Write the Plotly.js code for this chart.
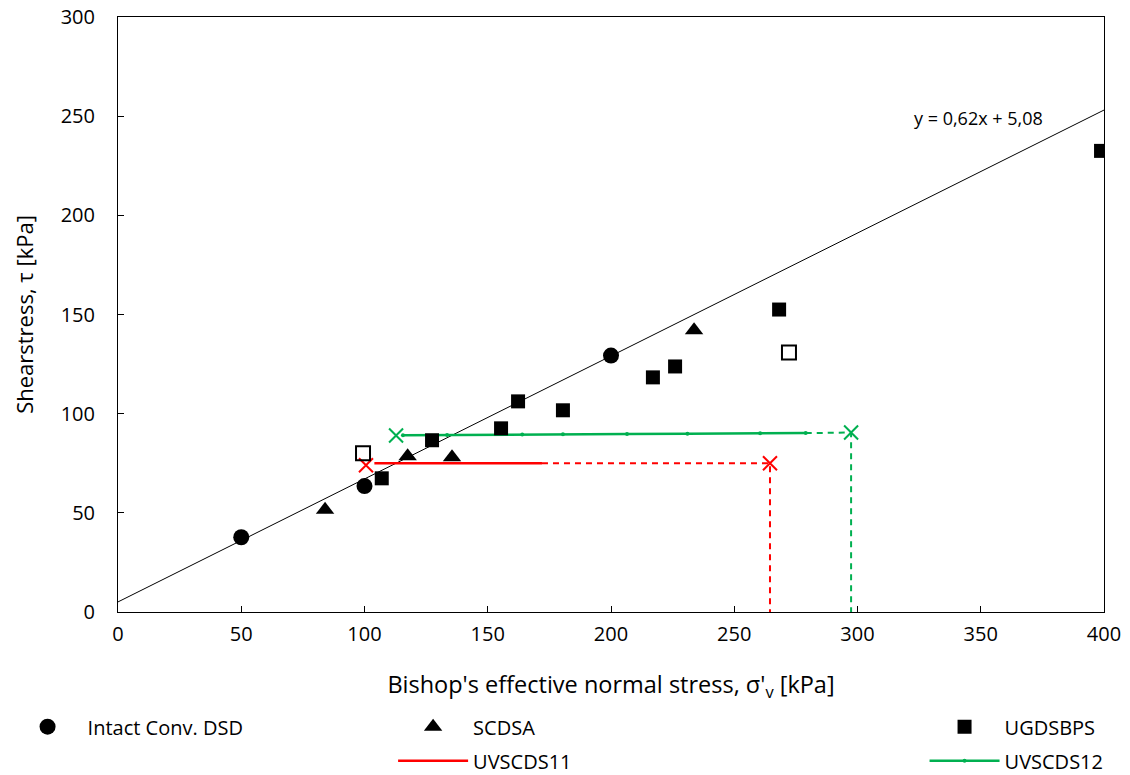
<!DOCTYPE html>
<html>
<head>
<meta charset="utf-8">
<script src="https://cdn.plot.ly/plotly-3.0.1.min.js"></script>
<style>html,body{margin:0;padding:0;background:#fff}#chart{width:1130px;height:775px}</style>
</head>
<body>
<div id="chart"></div>
<script>
// Intact Conv. DSD
const intactX = [50, 100, 200];
const intactY = [37.7, 63.5, 129.3];
// SCDSA
const scdsaX = [84, 117.5, 135.5, 233.7];
const scdsaY = [51.5, 78.5, 78, 142];
// UGDSBPS (filled)
const ugdsX = [107, 127.4, 155.4, 162.3, 180.5, 217, 226, 268.2, 398.8];
const ugdsY = [67.4, 86.6, 92.6, 106.2, 101.7, 118.3, 123.8, 152.5, 232.5];
// UGDSBPS (open squares)
const ugdsOpenX = [99.4, 272.2];
const ugdsOpenY = [80, 130.9];
// UVSCDS11 (red)
const uv11X = [104, 120, 140, 160, 172];
const uv11Y = [75, 75, 75, 75, 75];
const uv11DashX = [172, 264.5, 264.5];
const uv11DashY = [75, 75, 0];
const uv11CrossX = [100.6, 264.5];
const uv11CrossY = [74, 75];
// UVSCDS12 (green)
const uv12X = [115.6, 133.5, 164, 180.5, 206.5, 231, 260.5, 279];
const uv12Y = [89.1, 89.3, 89.5, 89.6, 89.8, 89.9, 90.1, 90.2];
const uv12DashX = [279, 297.4, 297.4];
const uv12DashY = [90.2, 90.5, 0];
const uv12CrossX = [112.8, 297.4];
const uv12CrossY = [89, 90.5];
// Trend line y = 0.62x + 5.08
const trendX = [0, 400];
const trendY = [5.08, 253.08];
const trendLabel = 'y = 0,62x + 5,08';

const FONT = 'Open Sans, sans-serif';
const RED = '#ff0000';
const GREEN = '#00b050';

const traces = [
  {x: trendX, y: trendY, mode: 'lines', line: {color: '#000', width: 1}, showlegend: false, hoverinfo: 'skip'},
  {x: uv11X, y: uv11Y, mode: 'lines', name: 'UVSCDS11', line: {color: RED, width: 2.5}, legend: 'legend2', legendgroup: 'b2', legendrank: 2},
  {x: uv11DashX, y: uv11DashY, mode: 'lines', line: {color: RED, width: 2, dash: '6px,5px'}, showlegend: false},
  {x: uv11CrossX, y: uv11CrossY, mode: 'markers', marker: {symbol: 'x-thin', size: 14, line: {color: RED, width: 2}}, showlegend: false},
  {x: uv12X, y: uv12Y, mode: 'lines+markers', name: 'UVSCDS12', line: {color: GREEN, width: 2.5}, marker: {size: 4, color: GREEN}, legend: 'legend3', legendgroup: 'c2', legendrank: 2},
  {x: uv12DashX, y: uv12DashY, mode: 'lines', line: {color: GREEN, width: 2, dash: '6px,5px'}, showlegend: false},
  {x: uv12CrossX, y: uv12CrossY, mode: 'markers', marker: {symbol: 'x-thin', size: 14, line: {color: GREEN, width: 2}}, showlegend: false},
  {x: intactX, y: intactY, mode: 'markers', name: 'Intact Conv. DSD', marker: {symbol: 'circle', size: 16, color: '#000'}, legend: 'legend', legendgroup: 'a1'},
  {x: scdsaX, y: scdsaY, mode: 'markers', name: 'SCDSA', marker: {symbol: 'triangle-up', size: 16, color: '#000'}, legend: 'legend2', legendgroup: 'b1', legendrank: 1},
  {x: ugdsX, y: ugdsY, mode: 'markers', name: 'UGDSBPS', marker: {symbol: 'square', size: 14, color: '#000'}, legend: 'legend3', legendgroup: 'c1', legendrank: 1},
  {x: ugdsOpenX, y: ugdsOpenY, mode: 'markers', marker: {symbol: 'square-open', size: 14, color: '#000', line: {width: 2}}, showlegend: false}
];

const legendBase = {orientation: 'v', yanchor: 'top', xanchor: 'left', y: -0.160, itemwidth: 70, font: {family: FONT, size: 20, color: '#000'}, bgcolor: 'rgba(0,0,0,0)', borderwidth: 0, tracegroupgap: 5};

const layout = {
  width: 1130, height: 775,
  margin: {l: 118, r: 26, t: 17, b: 163, autoexpand: false},
  paper_bgcolor: '#fff', plot_bgcolor: '#fff',
  font: {family: FONT, color: '#000'},
  xaxis: {
    range: [0, 400], dtick: 50, tick0: 0, ticks: 'inside', ticklen: 6, tickcolor: '#000',
    showline: true, linecolor: '#000', linewidth: 1, mirror: true, showgrid: false, zeroline: false,
    tickfont: {family: FONT, size: 20}, ticklabelstandoff: 4, fixedrange: true, automargin: false,
    title: {text: "Bishop's effective normal stress, σ'<sub>v</sub> [kPa]", font: {family: FONT, size: 23.5}, standoff: 30}
  },
  yaxis: {
    range: [0, 300], dtick: 50, tick0: 0, ticks: 'inside', ticklen: 6, tickcolor: '#000',
    showline: true, linecolor: '#000', linewidth: 1, mirror: true, showgrid: false, zeroline: false,
    tickfont: {family: FONT, size: 20}, ticklabelstandoff: 18, fixedrange: true, automargin: false,
    title: {text: 'Shearstress, τ [kPa]', font: {family: FONT, size: 22}, standoff: 20}
  },
  annotations: [{
    x: 349, y: 249, xref: 'x', yref: 'y', text: trendLabel, showarrow: false,
    font: {family: FONT, size: 18, color: '#000'}
  }],
  legend: Object.assign({}, legendBase, {x: -0.112}),
  legend2: Object.assign({}, legendBase, {x: 0.279}),
  legend3: Object.assign({}, legendBase, {x: 0.818}),
  showlegend: true
};

Plotly.newPlot('chart', traces, layout, {staticPlot: true, displayModeBar: false});
</script>
</body>
</html>
